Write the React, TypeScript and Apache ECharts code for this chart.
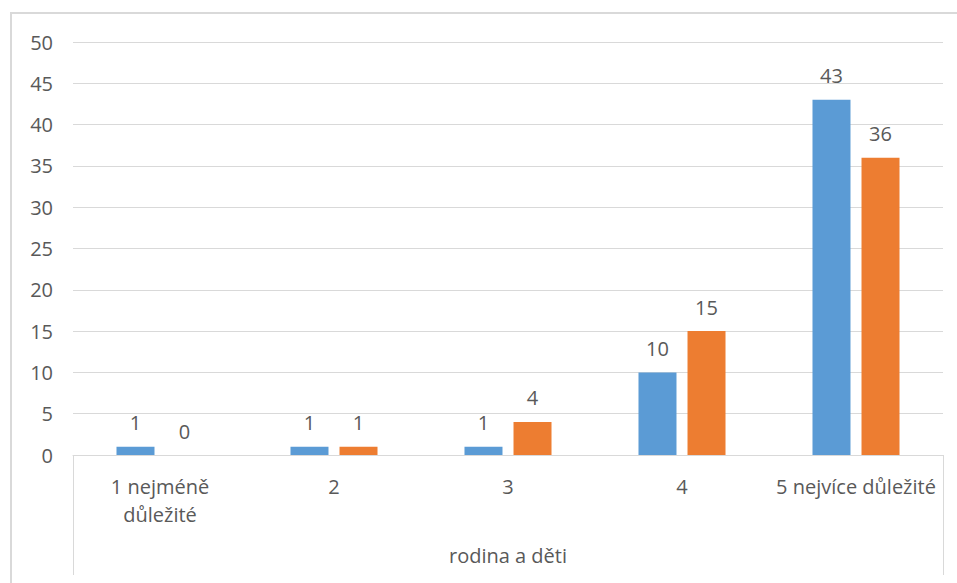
import React, { useEffect, useRef } from "react";
import * as echarts from "echarts";

const categories = ["1 nejméně\ndůležité", "2", "3", "4", "5 nejvíce důležité"];
const groupName = ["rodina a děti"];
const seriesA = [1, 1, 1, 10, 43];
const seriesB = [0, 1, 4, 15, 36];
const colorA = "#5B9BD5";
const colorB = "#ED7D31";
const textColor = "#595959";
const fontFamily = "'Open Sans', 'Noto Sans', sans-serif";
const fs = 20;

export default function App() {
  const ref = useRef<HTMLDivElement>(null);
  useEffect(() => {
    if (!ref.current) return;
    const chart = echarts.init(ref.current, null, { renderer: "svg" });
    const label = {
      show: true,
      position: "top",
      distance: 14,
      color: textColor,
      fontSize: fs,
      fontFamily,
    };
    chart.setOption({
      animation: false,
      backgroundColor: "#ffffff",
      graphic: [
        {
          type: "rect",
          shape: { x: 11, y: 13, width: 980, height: 620 },
          style: { fill: "none", stroke: "#d9d9d9", lineWidth: 2 },
          silent: true,
        },
      ],
      grid: { left: 73, right: 14, top: 42, bottom: 128 },
      xAxis: [
        {
          type: "category",
          data: categories,
          axisLine: { show: true, lineStyle: { color: "#d9d9d9", width: 1 } },
          axisTick: { show: false },
          axisLabel: {
            color: textColor,
            fontSize: fs,
            fontFamily,
            margin: 17,
            lineHeight: 28,
            interval: 0,
          },
        },
        {
          type: "category",
          data: groupName,
          position: "bottom",
          axisLine: { show: false },
          axisTick: { show: true, length: 120, lineStyle: { color: "#d9d9d9", width: 1 } },
          axisLabel: {
            color: textColor,
            fontSize: fs,
            fontFamily,
            margin: 90,
          },
        },
      ],
      yAxis: {
        type: "value",
        min: 0,
        max: 50,
        interval: 5,
        axisLine: { show: false },
        axisTick: { show: false },
        splitLine: { lineStyle: { color: "#d9d9d9", width: 1 } },
        axisLabel: { color: textColor, fontSize: fs, fontFamily, margin: 20 },
      },
      series: [
        {
          type: "bar",
          data: seriesA,
          xAxisIndex: 0,
          itemStyle: { color: colorA },
          barWidth: 38,
          barGap: "29%",
          label,
        },
        {
          type: "bar",
          data: seriesB,
          xAxisIndex: 0,
          itemStyle: { color: colorB },
          barWidth: 38,
          barGap: "29%",
          label,
        },
      ],
    });
    return () => chart.dispose();
  }, []);
  return (
    <div
      ref={ref}
      style={{ position: "absolute", left: 0, top: 0, width: 957, height: 583 }}
    />
  );
}
